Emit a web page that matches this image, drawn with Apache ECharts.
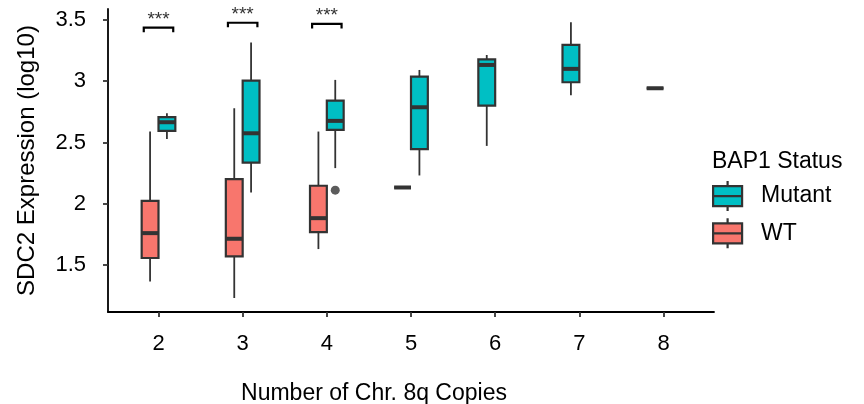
<!DOCTYPE html>
<html>
<head>
<meta charset="utf-8">
<script src="https://cdn.jsdelivr.net/npm/echarts@6/dist/echarts.min.js"></script>
<style>html,body{margin:0;padding:0;background:#fff}#c{width:864px;height:404px}</style>
</head>
<body>
<div id="c"></div>
<script>
// ---- data ----
const copies = [2, 3, 4, 5, 6, 7, 8];
// [lower whisker, Q1, median, Q3, upper whisker]
const mutantStats = [
  [2.529, 2.594, 2.665, 2.706, 2.739],
  [2.092, 2.336, 2.575, 3.004, 3.314],
  [2.291, 2.603, 2.676, 2.841, 3.010],
  [2.231, 2.445, 2.787, 3.037, 3.091],
  [2.472, 2.801, 3.132, 3.178, 3.213],
  [2.885, 2.991, 3.100, 3.295, 3.480],
  [2.942, 2.942, 2.942, 2.942, 2.942]
];
const wtStats = [
  [1.367, 1.558, 1.761, 2.024, 2.589],
  [1.232, 1.571, 1.715, 2.201, 2.779],
  [1.631, 1.769, 1.883, 2.147, 2.589],
  [2.133, 2.133, 2.133, 2.133, 2.133],
  null,
  null,
  null
];
const mutantOutlierCopies = [4];
const mutantOutlierValues = [2.111];
const sigCopies = [2, 3, 4];
const sigHeights = [3.436, 3.476, 3.466];
const sigLabels = ['***', '***', '***'];
const xTicks = [2, 3, 4, 5, 6, 7, 8];
const yTicks = [1.5, 2, 2.5, 3, 3.5];

// ---- styling ----
const MUT = '#00BFC4', WT = '#F8766D', INK = '#333333';
const DODGE = 0.1, BOXW = 0.2;
const FONT = 'Liberation Sans, Arial, sans-serif';

// dodge positions (preserve = single: a lone group takes the left slot)
function pos(i, group) {
  const both = wtStats[i] && mutantStats[i];
  if (both) return copies[i] + (group === 'WT' ? -DODGE : DODGE);
  return copies[i] - DODGE;
}
const mutantData = [], wtData = [];
copies.forEach((c, i) => {
  if (mutantStats[i]) mutantData.push([pos(i, 'Mutant')].concat(mutantStats[i]));
  if (wtStats[i]) wtData.push([pos(i, 'WT')].concat(wtStats[i]));
});
const outlierData = mutantOutlierCopies.map((c, k) => {
  const i = copies.indexOf(c);
  return [pos(i, 'Mutant'), mutantOutlierValues[k]];
});
const sigData = sigCopies.map((c, k) => [c, sigHeights[k]]);

function boxRender(fill) {
  return function (params, api) {
    const x = api.value(0);
    const lo = api.coord([x, api.value(1)]);
    const q1 = api.coord([x, api.value(2)]);
    const md = api.coord([x, api.value(3)]);
    const q3 = api.coord([x, api.value(4)]);
    const hi = api.coord([x, api.value(5)]);
    const hw = api.size([BOXW, 0])[0] / 2;
    const cx = md[0];
    const st = { stroke: INK, lineWidth: 1.8 };
    return {
      type: 'group',
      children: [
        { type: 'line', shape: { x1: cx, y1: hi[1], x2: cx, y2: q3[1] }, style: st },
        { type: 'line', shape: { x1: cx, y1: q1[1], x2: cx, y2: lo[1] }, style: st },
        { type: 'rect', shape: { x: cx - hw, y: q3[1], width: hw * 2, height: q1[1] - q3[1] },
          style: { fill: fill, stroke: INK, lineWidth: 2.2 } },
        { type: 'line', shape: { x1: cx - hw, y1: md[1], x2: cx + hw, y2: md[1] },
          style: { stroke: INK, lineWidth: 4 } }
      ]
    };
  };
}

function sigRender(params, api) {
  const c = api.value(0), h = api.value(1);
  const l = api.coord([c - 0.175, h]);
  const r = api.coord([c + 0.175, h]);
  const st = { stroke: '#000', lineWidth: 2.2, fill: null };
  return {
    type: 'group',
    children: [
      { type: 'polyline', shape: { points: [[l[0], l[1] + 4.5], [l[0], l[1]], [r[0], r[1]], [r[0], r[1] + 4.5]] }, style: st },
      { type: 'text', x: (l[0] + r[0]) / 2, y: l[1] - 8,
        style: { text: sigLabels[params.dataIndex], fill: INK, font: '19px ' + FONT, align: 'center', verticalAlign: 'middle' } }
    ]
  };
}

const legendIcon = 'path://M14.5,0L14.5,5M0,5L29,5L29,25L0,25ZM0,15L29,15M14.5,25L14.5,30';

const chart = echarts.init(document.getElementById('c'), null, { renderer: 'canvas' });
chart.setOption({
  animation: false,
  backgroundColor: '#fff',
  textStyle: { fontFamily: FONT },
  title: {
    text: 'BAP1 Status', left: 712, top: 150, padding: 0,
    textStyle: { fontSize: 23, fontWeight: 'normal', color: '#000', fontFamily: FONT }
  },
  legend: {
    orient: 'vertical', left: 712, top: 180, padding: 0,
    itemWidth: 29, itemHeight: 30, itemGap: 5,
    textStyle: { fontSize: 23, color: '#000', fontFamily: FONT, padding: [0, 0, 0, 14] },
    data: [
      { name: 'Mutant', icon: legendIcon, itemStyle: { color: MUT, borderColor: INK, borderWidth: 2.2 } },
      { name: 'WT', icon: legendIcon, itemStyle: { color: WT, borderColor: INK, borderWidth: 2.2 } }
    ]
  },
  grid: { left: 108, right: 150, top: 9, bottom: 92, containLabel: false, outerBoundsMode: 'none' },
  xAxis: {
    type: 'value', min: 1.4, max: 8.6,
    name: 'Number of Chr. 8q Copies', nameLocation: 'middle', nameGap: 70,
    nameTextStyle: { fontSize: 23, color: '#000', fontFamily: FONT, padding: [0, 74, 0, 0] },
    axisLine: { show: true, lineStyle: { color: '#000', width: 1.8 } },
    axisTick: { show: true, customValues: xTicks, length: 5, lineStyle: { color: INK, width: 1.8 } },
    axisLabel: { customValues: xTicks, fontSize: 22, color: '#000', margin: 21, fontFamily: FONT },
    splitLine: { show: false }
  },
  yAxis: {
    type: 'value', min: 1.118, max: 3.588,
    name: 'SDC2 Expression (log10)', nameLocation: 'middle', nameGap: 69,
    nameTextStyle: { fontSize: 24, color: '#000', fontFamily: FONT },
    axisLine: { show: true, lineStyle: { color: '#000', width: 1.8 } },
    axisTick: { show: true, customValues: yTicks, length: 5, lineStyle: { color: INK, width: 1.8 } },
    axisLabel: { customValues: yTicks, fontSize: 22, color: '#000', margin: 22, fontFamily: FONT },
    splitLine: { show: false }
  },
  series: [
    { name: 'Mutant', type: 'custom', renderItem: boxRender(MUT), data: mutantData,
      itemStyle: { color: MUT }, encode: { x: 0, y: [1, 2, 3, 4, 5] }, z: 3 },
    { name: 'WT', type: 'custom', renderItem: boxRender(WT), data: wtData,
      itemStyle: { color: WT }, encode: { x: 0, y: [1, 2, 3, 4, 5] }, z: 3 },
    { name: 'outliers', type: 'scatter', data: outlierData, symbolSize: 9,
      itemStyle: { color: INK }, z: 4 },
    { name: 'sig', type: 'custom', renderItem: sigRender, data: sigData,
      encode: { x: 0, y: 1 }, z: 5 }
  ]
});
</script>
</body>
</html>
